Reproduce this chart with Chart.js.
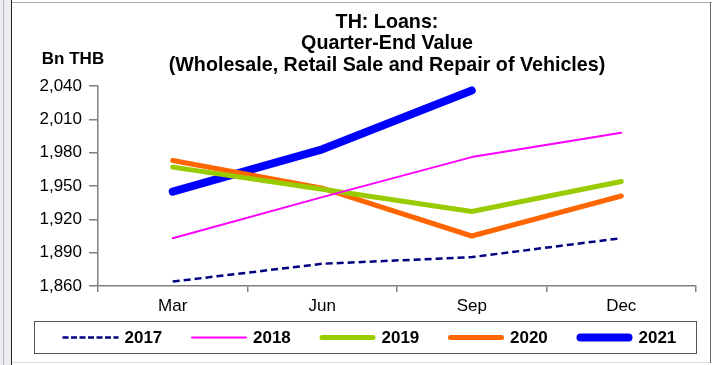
<!DOCTYPE html>
<html>
<head>
<meta charset="utf-8">
<title>TH: Loans - Quarter-End Value</title>
<script src="https://cdn.jsdelivr.net/npm/chart.js@4.4.1/dist/chart.umd.min.js"></script>
<style>
  html, body { margin: 0; padding: 0; background: #fff; }
  canvas { display: block; }
</style>
</head>
<body>
<canvas id="loanChart" width="712" height="365"></canvas>
<script>
// quarter-end loan balances, Bn THB
const quarters = ['Mar', 'Jun', 'Sep', 'Dec'];
const years = ['2017', '2018', '2019', '2020', '2021'];
const loans2017 = [1864, 1880, 1886, 1903];
const loans2018 = [1903, 1940, 1976, 1998];
const loans2019 = [1967, 1947, 1927, 1954];
const loans2020 = [1973, 1948, 1905, 1941];
const loans2021 = [1945, 1983, 2036, null];
const yTicks = [1860, 1890, 1920, 1950, 1980, 2010, 2040];

const titleLines = ['TH: Loans:', 'Quarter-End Value', '(Wholesale, Retail Sale and Repair of Vehicles)'];
const unitLabel = 'Bn THB';

const FONT = '"Liberation Sans", Arial, sans-serif';

// one style per year, same order as `years`
const styles = [
    { color: '#000080', width: 2.5, dash: [7, 4], legendDash: [6, 2.5] },
    { color: '#FF00FF', width: 2 },
    { color: '#99CC00', width: 5 },
    { color: '#FF6600', width: 5 },
    { color: '#0000FF', width: 8 }
];
const series = [loans2017, loans2018, loans2019, loans2020, loans2021];

const datasets = years.map((y, i) => ({
    label: y,
    data: series[i],
    borderColor: styles[i].color,
    backgroundColor: styles[i].color,
    borderWidth: styles[i].width,
    borderDash: styles[i].dash || [],
    borderCapStyle: styles[i].dash ? 'butt' : 'round',
    borderJoinStyle: 'round',
    pointRadius: 0,
    pointHoverRadius: 0,
    tension: 0,
    fill: false
}));

// frame, title, unit label and the boxed legend
const decorations = {
    id: 'decorations',
    beforeDraw(chart) {
        const ctx = chart.ctx;
        const W = chart.width, H = chart.height;
        ctx.save();
        ctx.fillStyle = '#fff';
        ctx.fillRect(0, 0, W, H);
        ctx.fillStyle = '#ececf3';
        ctx.fillRect(0, 0, 11, H);
        ctx.lineWidth = 1;
        ctx.strokeStyle = '#b4b4b4';
        ctx.beginPath(); ctx.moveTo(3.5, 0); ctx.lineTo(3.5, H); ctx.stroke();
        ctx.strokeStyle = '#ababab';
        ctx.beginPath(); ctx.moveTo(11, 2.5); ctx.lineTo(W, 2.5); ctx.stroke();
        ctx.strokeStyle = '#dddddd';
        ctx.beginPath(); ctx.moveTo(11, 362.5); ctx.lineTo(W, 362.5); ctx.stroke();
        ctx.strokeStyle = '#222';
        ctx.beginPath(); ctx.moveTo(11.5, 0); ctx.lineTo(11.5, H); ctx.stroke();
        ctx.strokeStyle = '#666';
        ctx.beginPath(); ctx.moveTo(710.5, 2); ctx.lineTo(710.5, 363); ctx.stroke();
        ctx.restore();
    },
    afterDraw(chart) {
        const ctx = chart.ctx;
        ctx.save();
        ctx.fillStyle = '#000';
        ctx.textAlign = 'center';
        ctx.textBaseline = 'alphabetic';
        ctx.font = 'bold 19.7px ' + FONT;
        titleLines.forEach((t, i) => ctx.fillText(t, 387, 27.5 + i * 21.5));

        ctx.font = 'bold 17px ' + FONT;
        ctx.fillText(unitLabel, 73, 64);

        // legend box
        ctx.strokeStyle = '#555';
        ctx.lineWidth = 1;
        ctx.strokeRect(34.5, 321.5, 662, 32);

        const cy = 337.5;
        years.forEach((y, i) => {
            const s = styles[i];
            const x0 = 62.5 + i * 128.5;
            const inset = s.dash ? 0 : s.width / 2;
            ctx.beginPath();
            ctx.strokeStyle = s.color;
            ctx.lineWidth = s.width;
            ctx.lineCap = s.dash ? 'butt' : 'round';
            ctx.setLineDash(s.legendDash || []);
            ctx.moveTo(x0 + inset, cy);
            ctx.lineTo(x0 + 56 - inset, cy);
            ctx.stroke();
            ctx.setLineDash([]);
            ctx.fillStyle = '#000';
            ctx.textAlign = 'left';
            ctx.textBaseline = 'middle';
            ctx.font = 'bold 17px ' + FONT;
            ctx.fillText(y, x0 + 62, cy + 1);
        });
        ctx.restore();
    }
};

new Chart(document.getElementById('loanChart'), {
    type: 'line',
    data: { labels: quarters, datasets: datasets },
    options: {
        responsive: false,
        animation: false,
        events: [],
        layout: { padding: { top: 86, right: 16, left: 0, bottom: 0 } },
        plugins: {
            legend: { display: false },
            title: { display: false },
            tooltip: { enabled: false }
        },
        scales: {
            x: {
                type: 'category',
                offset: true,
                grid: {
                    offset: true,
                    drawOnChartArea: false,
                    drawTicks: true,
                    tickLength: 6,
                    color: '#808080',
                    lineWidth: 1.5
                },
                border: { color: '#808080', width: 1.5 },
                ticks: {
                    color: '#000',
                    padding: 4,
                    maxRotation: 0,
                    font: { family: FONT, size: 17 }
                },
                afterFit(scale) { scale.height = 79; }
            },
            y: {
                min: yTicks[0],
                max: yTicks[yTicks.length - 1],
                afterBuildTicks(scale) { scale.ticks = yTicks.map(v => ({ value: v })); },
                grid: {
                    drawOnChartArea: false,
                    drawTicks: true,
                    tickLength: 9,
                    color: '#808080',
                    lineWidth: 1.5
                },
                border: { color: '#808080', width: 1.5 },
                ticks: {
                    color: '#000',
                    padding: 7,
                    font: { family: FONT, size: 17 },
                    callback: v => v.toLocaleString('en-US')
                },
                afterFit(scale) { scale.width = 98; }
            }
        }
    },
    plugins: [decorations]
});
</script>
</body>
</html>
